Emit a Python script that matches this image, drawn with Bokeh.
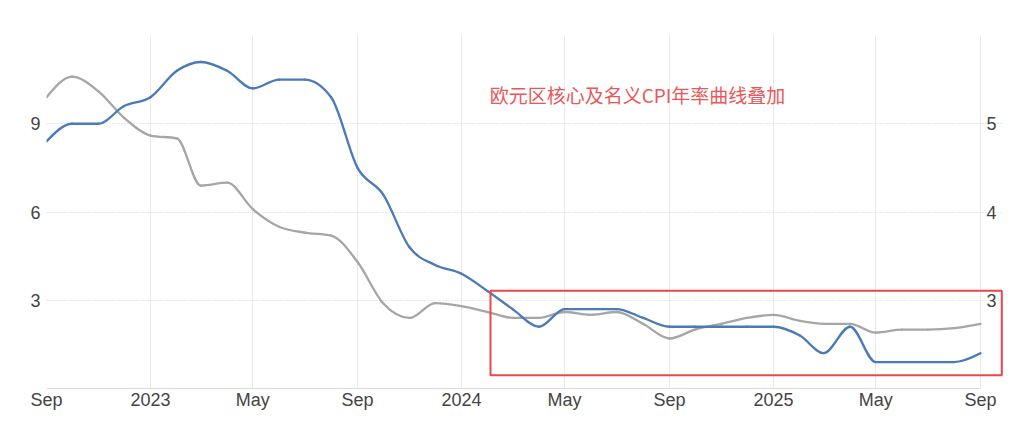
import numpy as np
import pandas as pd
from bokeh.plotting import figure
from bokeh.models import (Range1d, LinearAxis, FixedTicker, PolyAnnotation, Label,
                          ColumnDataSource, DatetimeTickFormatter)
from bokeh.embed import file_html
from bokeh.resources import INLINE

# ---------------- data ----------------
start_month = "2022-09-01"
end_month = "2025-09-01"
# Euro area headline CPI y/y (%), left axis (grey)
headline = [9.9, 10.6, 10.1, 9.2,
            8.6, 8.5, 6.9, 7.0, 6.1, 5.5, 5.3, 5.2, 4.3, 2.9, 2.4, 2.9,
            2.8, 2.6, 2.4, 2.4, 2.6, 2.5, 2.6, 2.2, 1.7, 2.0, 2.2, 2.4,
            2.5, 2.3, 2.2, 2.2, 1.9, 2.0, 2.0, 2.05, 2.2]
# Euro area core CPI y/y (%), right axis (blue)
core = [4.8, 5.0, 5.0, 5.2,
        5.3, 5.6, 5.7, 5.6, 5.4, 5.5, 5.5, 5.3, 4.5, 4.2, 3.6, 3.4,
        3.3, 3.1, 2.9, 2.7, 2.9, 2.9, 2.9, 2.8, 2.7, 2.7, 2.7, 2.7,
        2.7, 2.6, 2.4, 2.7, 2.3, 2.3, 2.3, 2.3, 2.4]
tick_dates = ["2022-09-01", "2023-01-01", "2023-05-01", "2023-09-01", "2024-01-01",
              "2024-05-01", "2024-09-01", "2025-01-01", "2025-05-01", "2025-09-01"]
tick_labels = ["Sep", "2023", "May", "Sep", "2024", "May", "Sep", "2025", "May", "Sep"]
left_ticks = [3, 6, 9]
right_ticks = [3, 4, 5]
title_text = "欧元区核心及名义CPI年率曲线叠加"

# ---------------- helpers ----------------
def ms(d):
    return pd.Timestamp(d).value / 1e6

months = pd.date_range(start_month, end_month, freq="MS")
xs = np.array([ms(m) for m in months])


def monotone_segments(x, y):
    """Bezier segments of a monotone cubic curve through (x, y) (like d3 curveMonotoneX)."""
    x = np.asarray(x, float)
    y = np.asarray(y, float)
    n = len(x)
    h = np.diff(x)
    s = np.diff(y) / h
    t = np.zeros(n)
    for i in range(1, n - 1):
        h0, h1 = h[i - 1], h[i]
        s0, s1 = s[i - 1], s[i]
        p = (s0 * h1 + s1 * h0) / (h0 + h1)
        t[i] = (np.sign(s0) + np.sign(s1)) * min(abs(s0), abs(s1), 0.5 * abs(p))
    t[0] = (3 * s[0] - t[1]) / 2
    t[-1] = (3 * s[-1] - t[-2]) / 2
    dx = h / 3.0
    return dict(x0=x[:-1], y0=y[:-1], x1=x[1:], y1=y[1:],
                cx0=x[:-1] + dx, cy0=y[:-1] + dx * t[:-1],
                cx1=x[1:] - dx, cy1=y[1:] - dx * t[1:])


# ---------------- figure ----------------
# the frame runs a little past the last month so that the highlight box can overhang it
view_end = ms("2025-09-28")
p = figure(width=1016, height=430, x_axis_type="datetime",
           x_range=Range1d(ms(start_month), view_end),
           y_range=Range1d(0, 12),
           output_backend="svg", toolbar_location=None,
           min_border_left=46, min_border_right=13,
           min_border_top=35, min_border_bottom=42)
p.extra_y_ranges = {"right": Range1d(2, 6)}
p.outline_line_color = None
p.background_fill_color = "white"
p.border_fill_color = "white"

label_font = "Liberation Sans"

# x axis
xa = p.xaxis[0]
xa.ticker = FixedTicker(ticks=[ms(d) for d in tick_dates])
xa.formatter = DatetimeTickFormatter(months="%b", years="%Y")
xa.major_label_overrides = {ms(d): lab for d, lab in zip(tick_dates, tick_labels)}
xa.bounds = (ms(start_month), ms(end_month))
xa.axis_line_color = "#dcdcdc"
xa.major_tick_line_color = None
xa.minor_tick_line_color = None
xa.major_tick_out = 0
xa.major_tick_in = 0
xa.minor_tick_out = 0
xa.major_label_standoff = 1
xa.major_label_text_font = label_font
xa.major_label_text_font_size = "18px"
xa.major_label_text_color = "#444444"

# left axis
ya = p.yaxis[0]
ya.ticker = FixedTicker(ticks=left_ticks)
ya.axis_line_color = None
ya.major_tick_line_color = None
ya.minor_tick_line_color = None
ya.major_tick_out = 0
ya.major_tick_in = 0
ya.minor_tick_out = 0
ya.major_label_standoff = 6
ya.major_label_text_font = label_font
ya.major_label_text_font_size = "18px"
ya.major_label_text_color = "#444444"

# right axis (labels sit just right of the last month, inside the overhang)
ra = LinearAxis(y_range_name="right", ticker=FixedTicker(ticks=right_ticks))
ra.axis_line_color = None
ra.major_tick_line_color = None
ra.minor_tick_line_color = None
ra.major_tick_out = 0
ra.major_tick_in = 0
ra.minor_tick_out = 0
ra.major_label_standoff = -17
ra.major_label_text_font = label_font
ra.major_label_text_font_size = "18px"
ra.major_label_text_color = "#444444"
p.add_layout(ra, "right")

# grids
p.xgrid.ticker = FixedTicker(ticks=[ms(d) for d in tick_dates])
p.xgrid.grid_line_color = "#eaeaea"
p.xgrid.grid_line_width = 1
p.ygrid.ticker = FixedTicker(ticks=left_ticks + [12])
p.ygrid.grid_line_color = "#d4d4d4"
p.ygrid.grid_line_dash = "1 2"
p.ygrid.grid_line_width = 1

# lines
grey_src = ColumnDataSource(monotone_segments(xs, headline))
blue_src = ColumnDataSource(monotone_segments(xs, core))
p.bezier(x0="x0", y0="y0", x1="x1", y1="y1", cx0="cx0", cy0="cy0", cx1="cx1", cy1="cy1",
         source=grey_src, line_color="#a6a6a6", line_width=2.3, line_cap="round")
p.bezier(x0="x0", y0="y0", x1="x1", y1="y1", cx0="cx0", cy0="cy0", cx1="cx1", cy1="cy1",
         source=blue_src, line_color="#4a7ab8", line_width=2.3, line_cap="round",
         y_range_name="right")

# highlight box (extends past the last month)
bx0, bx1 = ms("2024-02-04"), ms("2025-09-26")
by0, by1 = 0.45, 3.32
box = PolyAnnotation(xs=[bx0, bx1, bx1, bx0], ys=[by1, by1, by0, by0],
                     fill_alpha=0, line_color="#e8474c", line_alpha=1.0, line_width=2)
p.add_layout(box)

# title text
lbl = Label(x=ms("2024-02-03"), y=10.0, text=title_text,
            text_font="Noto Sans CJK SC", text_font_size="19px",
            text_color="#e8575a", text_baseline="middle", text_align="left")
p.add_layout(lbl)

open("out.html", "w").write(file_html(p, INLINE))
